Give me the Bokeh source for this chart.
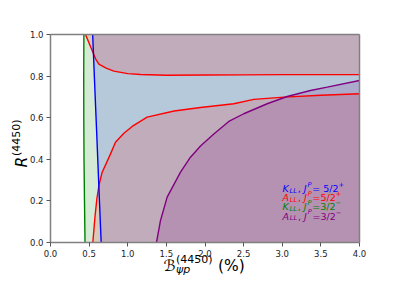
import math
from bokeh.plotting import figure
from bokeh.models import Range1d, FixedTicker, NumeralTickFormatter, Label, LinearAxis
from bokeh.embed import file_html
from bokeh.resources import INLINE

# ---------------- data ----------------
x_ticks = [0.0, 0.5, 1.0, 1.5, 2.0, 2.5, 3.0, 3.5, 4.0]
y_ticks = [0.0, 0.2, 0.4, 0.6, 0.8, 1.0]

# K_LL, J^P = 3/2^-  (green, nearly vertical boundary)
green_y = [0.0, 0.2, 0.4, 0.6, 0.8, 1.0]
green_x = [0.447, 0.440, 0.434, 0.431, 0.430, 0.432]

# K_LL, J^P = 5/2^+  (blue boundary)
blue_y = [0.0, 0.25, 0.5, 0.75, 1.0]
blue_x = [0.656, 0.628, 0.601, 0.573, 0.546]

# A_LL, J^P = 5/2^+  (red, upper branch)
red_up_x = [0.453, 0.52, 0.585, 0.626, 0.72, 0.82, 1.0, 1.165, 1.5, 2.0, 2.5, 3.0, 3.5, 4.0]
red_up_y = [1.0, 0.94, 0.882, 0.858, 0.838, 0.824, 0.812, 0.808, 0.804, 0.805, 0.806, 0.807, 0.807, 0.807]

# A_LL, J^P = 5/2^+  (red, lower branch)
red_lo_x = [0.548, 0.575, 0.60, 0.63, 0.669, 0.777, 0.841, 0.95, 1.057, 1.251, 1.6, 1.942, 2.373, 2.632, 3.02, 3.5, 4.0]
red_lo_y = [0.0, 0.12, 0.21, 0.28, 0.338, 0.426, 0.482, 0.525, 0.558, 0.603, 0.632, 0.649, 0.667, 0.688, 0.699, 0.708, 0.715]

# A_LL, J^P = 3/2^-  (purple boundary)
purple_x = [1.372, 1.424, 1.51, 1.683, 1.812, 1.942, 2.114, 2.308, 2.502, 2.805, 3.064, 3.366, 3.582, 4.0]
purple_y = [0.0, 0.106, 0.218, 0.338, 0.41, 0.464, 0.522, 0.582, 0.619, 0.667, 0.702, 0.731, 0.747, 0.779]

X_MIN, X_MAX = 0.0, 4.0
Y_MIN, Y_MAX = 0.0, 1.0

# ---------------- layout (pixels) ----------------
W, H = 395, 281
PLOT_L, PLOT_T, PLOT_W, PLOT_H = 50, 34, 309, 208
PLOT_B = PLOT_T + PLOT_H
XPX = (X_MAX - X_MIN) / PLOT_W
YPX = (Y_MAX - Y_MIN) / PLOT_H


def dx(px):
    return X_MIN + (px - PLOT_L) * XPX


def dy(py):
    return Y_MIN + (PLOT_B - py) * YPX


p = figure(width=W, height=H, output_backend="svg", toolbar_location=None,
           x_range=Range1d(dx(0), dx(W)), y_range=Range1d(dy(H), dy(0)),
           min_border=0, min_border_left=0, min_border_right=0,
           min_border_top=0, min_border_bottom=0)
p.title.visible = False
p.grid.visible = False
p.background_fill_color = "white"
p.border_fill_color = "white"
p.outline_line_color = None

AX_COLOR = "#808080"


def style_axis(ax):
    ax.axis_line_color = AX_COLOR
    ax.axis_line_width = 1.5
    ax.major_tick_line_color = "#555555"
    ax.major_tick_out = 4
    ax.major_tick_in = 0
    ax.minor_tick_line_color = None
    ax.major_label_text_font = "DejaVu Sans"
    ax.major_label_text_font_size = "8.5px"
    ax.major_label_text_color = "#222222"
    ax.formatter = NumeralTickFormatter(format="0.0")
    ax.major_label_standoff = 3


xa = p.xaxis[0]
ya = p.yaxis[0]
style_axis(xa)
style_axis(ya)
xa.ticker = FixedTicker(ticks=x_ticks)
ya.ticker = FixedTicker(ticks=y_ticks)
xa.fixed_location = Y_MIN
ya.fixed_location = X_MIN
xa.bounds = (X_MIN, X_MAX)
ya.bounds = (Y_MIN, Y_MAX)

# top and right spines as bare axes
top_ax = LinearAxis(fixed_location=Y_MAX, bounds=(X_MIN, X_MAX), ticker=FixedTicker(ticks=[]))
right_ax = LinearAxis(fixed_location=X_MAX, bounds=(Y_MIN, Y_MAX), ticker=FixedTicker(ticks=[]))
for ax in (top_ax, right_ax):
    ax.axis_line_color = AX_COLOR
    ax.axis_line_width = 1.5
    ax.major_tick_line_color = None
    ax.minor_tick_line_color = None
    ax.major_label_text_font_size = "0px"
p.add_layout(top_ax, "above")
p.add_layout(right_ax, "right")

GREEN, BLUE, RED, PURPLE = "#008000", "#0000ff", "#ff0000", "#800080"

# fills
p.harea(y=green_y, x1=green_x, x2=X_MAX, fill_color=GREEN, fill_alpha=0.17)
p.harea(y=blue_y, x1=blue_x, x2=X_MAX, fill_color=BLUE, fill_alpha=0.14)
p.varea(x=red_up_x, y1=red_up_y, y2=Y_MAX, fill_color=RED, fill_alpha=0.14)
p.varea(x=red_lo_x, y1=Y_MIN, y2=red_lo_y, fill_color=RED, fill_alpha=0.14)
p.varea(x=purple_x, y1=Y_MIN, y2=purple_y, fill_color=PURPLE, fill_alpha=0.15)

# lines
LW = 1.4
p.line(green_x, green_y, line_color=GREEN, line_width=LW)
p.line(red_up_x, red_up_y, line_color=RED, line_width=LW)
p.line(red_lo_x, red_lo_y, line_color=RED, line_width=LW)
p.line(blue_x, blue_y, line_color=BLUE, line_width=LW)
p.line(purple_x, purple_y, line_color=PURPLE, line_width=LW)

# ---------------- rich text helper ----------------
EM = {'K': .656, 'L': .557, 'A': .684, 'J': .295, 'P': .603, ',': .318, ' ': .318,
      '\u00a0': .318,
      '=': .838, '5': .636, '2': .636, '3': .636, '/': .337, '+': .838, '\u2212': .838,
      '(': .390, ')': .390, '4': .636, '0': .636, '%': .950, 'R': .695,
      '\u212c': .80, '\u03c8': .75, 'p': .635}


def text_w(t, size):
    return sum(EM.get(c, .6) for c in t) * size


def rich(px0, py0, pieces, color, angle=0.0):
    """Place text pieces; px0/py0 = pixel anchor of first baseline start.
    A bare number in pieces is an extra gap in pixels."""
    pos = 0.0
    for piece in pieces:
        if isinstance(piece, (int, float)):
            pos += piece
            continue
        text, size, shift, style, adv = piece
        if angle == 0.0:
            x, y = dx(px0 + pos), dy(py0 - shift)
        else:
            x, y = dx(px0 - shift), dy(py0 - pos)
        p.add_layout(Label(x=x, y=y, text=text, text_font="DejaVu Sans",
                           text_font_size=f"{size}px", text_font_style=style,
                           text_color=color, text_align="left",
                           text_baseline="alphabetic", angle=angle))
        if adv:
            pos += text_w(text, size) + (0.8 if style == "italic" else 0.0)


# legend-like annotations
LS, SS = 9.5, 6.7
legend_rows = [
    ("K", "=\u00a05/2", "+", BLUE),
    ("A", "=5/2", "+", RED),
    ("K", "=3/2", "\u2212", GREEN),
    ("A", "=3/2", "\u2212", PURPLE),
]
for i, (sym, frac, sign, col) in enumerate(legend_rows):
    rich(282, 188 + i * 9.2, [
        (sym, LS, 0, "italic", True),
        ("LL", SS, -2, "italic", True),
        (",", LS, 0, "normal", True),
        3.0,
        ("J", LS, 0, "italic", True),
        ("P", SS, 4, "italic", True),
        (frac, LS, 0, "normal", True),
        (sign, SS, 4, "normal", True),
    ], col)

# x axis title
rich(163, 265, [
    ("\u212c", 15.5, 0, "normal", True),
    ("\u03c8p", 11, -4, "italic", False),
    ("(4450)", 11, 6.5, "normal", True),
    5.5,
    ("(%)", 15.5, 0, "normal", True),
], "black")

# y axis title
rich(21, 167, [
    ("R", 15.5, 0, "italic", True),
    ("(4450)", 11, 5, "normal", True),
], "black", angle=math.pi / 2)

open("out.html", "w").write(file_html(p, INLINE))
